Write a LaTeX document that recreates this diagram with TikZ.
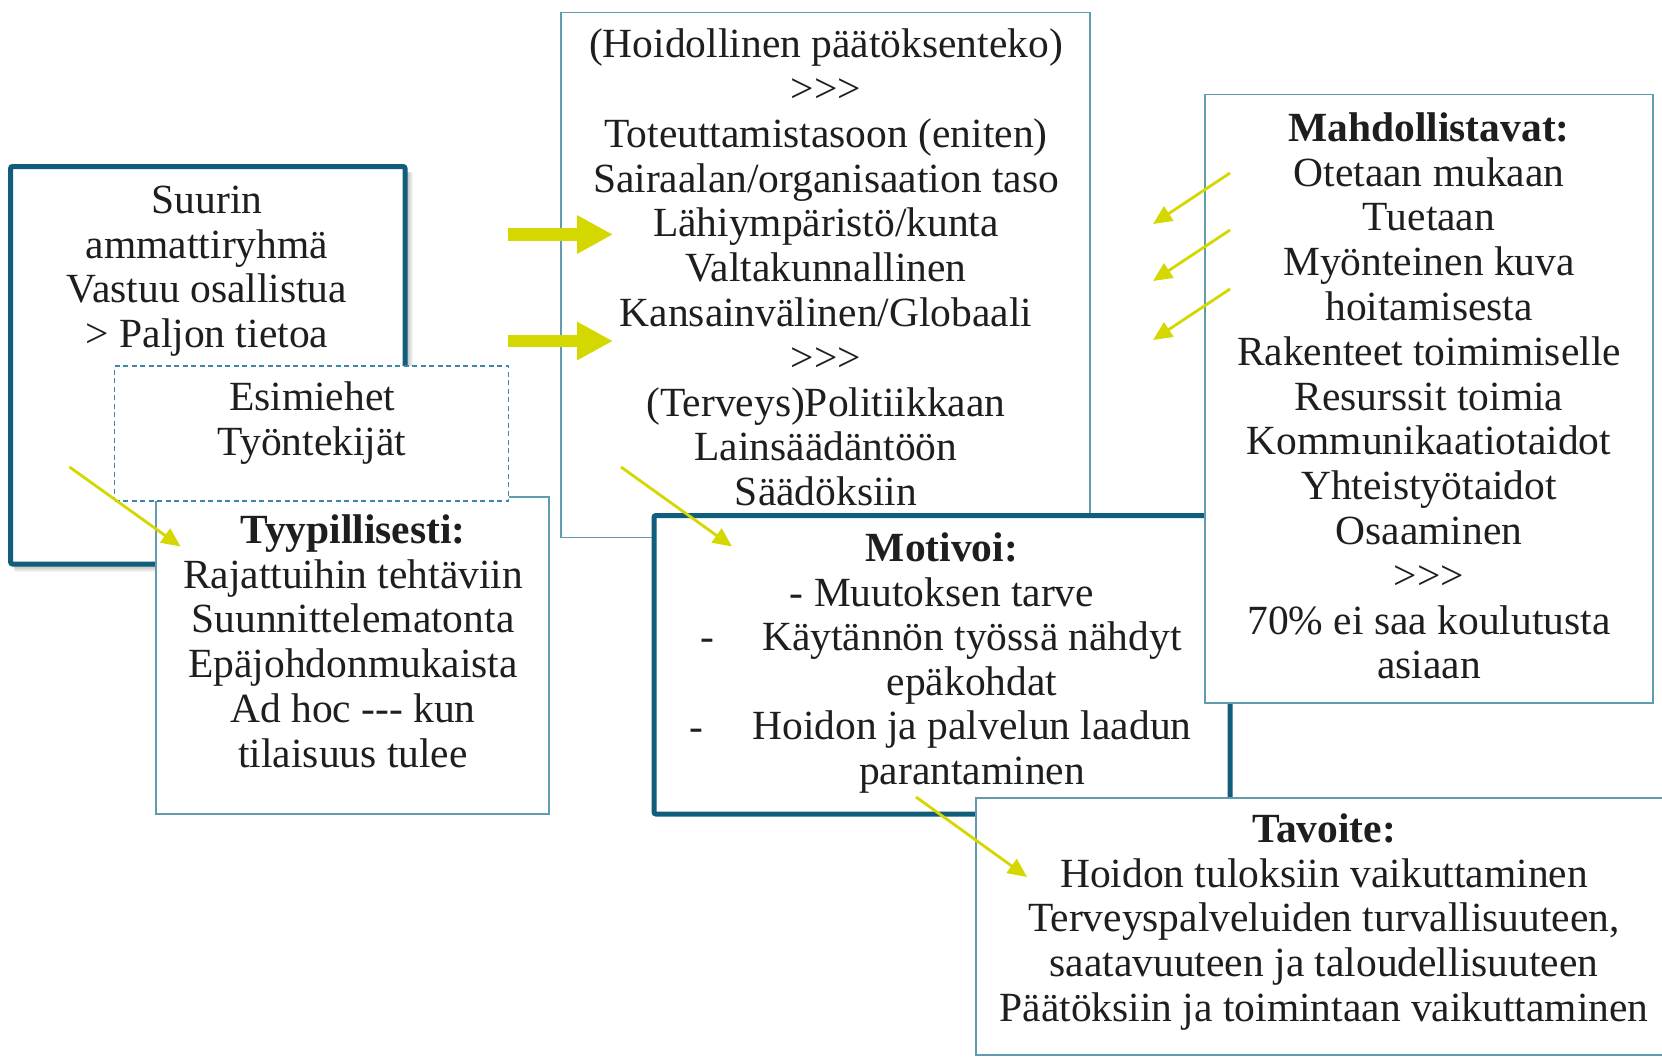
\documentclass[tikz,border=0pt]{standalone}
\usepackage{fontspec}
\setmainfont{Liberation Serif}
\usetikzlibrary{arrows.meta}
\definecolor{tealdark}{RGB}{16,93,124}
\definecolor{tealthin}{RGB}{96,155,176}
\definecolor{tealdash}{RGB}{60,135,165}
\definecolor{ylw}{RGB}{212,215,0}
\definecolor{txt}{RGB}{30,30,30}
\newcommand{\firstln}{\rule{0pt}{34pt}}
\tikzset{
  thickbox/.style={draw=tealdark, line width=5pt, fill=white, rounded corners=2pt, inner sep=0pt},
  thinbox/.style={draw=tealthin, line width=1.6pt, fill=white, inner sep=0pt},
  dashbox/.style={draw=tealdash, line width=1.6pt, dash pattern=on 5pt off 3.5pt, fill=white, inner sep=0pt},
  txtblock/.style={align=center, font=\fontsize{41.5}{44.8}\selectfont, text=txt, inner sep=0pt, anchor=north},
  dashmark/.style={font=\fontsize{41.5}{44.8}\selectfont, text=txt, inner sep=0pt, anchor=base},
  thinarr/.style={draw=ylw, line width=2.8pt, -{Triangle[length=19pt,width=17pt]}},
  fatarr/.style={draw=ylw, line width=12.7pt, -{Triangle[length=36pt,width=36pt]}}
}
\begin{document}
\begin{tikzpicture}[x=1pt,y=-1pt]
\useasboundingbox (0,0) rectangle (1662,1057);
\clip (0,0) rectangle (1662,1057);
% shadow of left box
\foreach \i in {1,...,8}
  \fill[black, opacity=0.045, rounded corners=2pt] (14,172) rectangle ({405+\i},{564+\i});
% boxes
\node[thickbox, minimum width=394.4pt, minimum height=397.5pt] (leftbox) at (207.8,365.25) {};
\node[thinbox, minimum width=529pt, minimum height=525pt] (centerbox) at (825.5,275.15) {};
\node[thinbox, minimum width=393pt, minimum height=317.3pt] (typbox) at (352.5,655.35) {};
\node[dashbox, minimum width=394pt, minimum height=135pt] (dashbox) at (311.5,433.5) {};
\node[thickbox, minimum width=576pt, minimum height=298.5pt] (motbox) at (942,664.75) {};
\node[thinbox, minimum width=448pt, minimum height=608.6pt] (mahdbox) at (1429,398.7) {};
\node[thinbox, minimum width=724pt, minimum height=257pt] (tavbox) at (1338,926.5) {};
% texts
\node[txtblock] (leftT) at (207,179) {\firstln Suurin\\ammattiryhmä\\Vastuu osallistua\\> Paljon tietoa};
\node[txtblock] (dashT) at (312,376) {\firstln Esimiehet\\Työntekijät};
\node[txtblock] (typT) at (353,509) {\firstln\textbf{Tyypillisesti:}\\Rajattuihin tehtäviin\\Suunnittelematonta\\Epäjohdonmukaista\\Ad hoc -{}-{}- kun\\tilaisuus tulee};
\node[txtblock] (centerT) at (826,23.5) {\firstln (Hoidollinen päätöksenteko)\\>{}>{}>\\Toteuttamistasoon (eniten)\\Sairaalan/organisaation taso\\Lähiympäristö/kunta\\Valtakunnallinen\\Kansainvälinen/Globaali\\>{}>{}>\\(Terveys)Politiikkaan\\Lainsäädäntöön\\Säädöksiin};
\node[txtblock] (mahdT) at (1429,107) {\firstln\textbf{Mahdollistavat:}\\Otetaan mukaan\\Tuetaan\\Myönteinen kuva\\hoitamisesta\\Rakenteet toimimiselle\\Resurssit toimia\\Kommunikaatiotaidot\\Yhteistyötaidot\\Osaaminen\\>{}>{}>\\70\% ei saa koulutusta\\asiaan};
\node[txtblock] (motT) at (942,527) {\firstln\textbf{Motivoi:}\\- Muutoksen tarve};
\node[txtblock] (motT2) at (972,616) {\firstln Käytännön työssä nähdyt\\epäkohdat\\Hoidon ja palvelun laadun\\parantaminen};
\node[dashmark] (motD1) at (707,650) {-};
\node[dashmark] (motD2) at (696,740) {-};
\node[txtblock] (tavT) at (1324,808) {\firstln\textbf{Tavoite:}\\Hoidon tuloksiin vaikuttaminen\\Terveyspalveluiden turvallisuuteen,\\saatavuuteen ja taloudellisuuteen\\Päätöksiin ja toimintaan vaikuttaminen};
% arrow end points
\coordinate (f1s) at (508,234.5); \coordinate (f1e) at (613,234.5);
\coordinate (f2s) at (508,341);   \coordinate (f2e) at (613,341);
\coordinate (lAs) at (69.5,467);  \coordinate (lAe) at (180.5,546.5);
\coordinate (cAs) at (621,467);   \coordinate (cAe) at (732,546.5);
\coordinate (mAs) at (916,797);   \coordinate (mAe) at (1027,877);
\coordinate (r1s) at (1230,173);  \coordinate (r1e) at (1153,224);
\coordinate (r2s) at (1230,230);  \coordinate (r2e) at (1153,281);
\coordinate (r3s) at (1230,289);  \coordinate (r3e) at (1153,340);
% arrows
\draw[fatarr] (f1s) -- (f1e);
\draw[fatarr] (f2s) -- (f2e);
\draw[thinarr] (lAs) -- (lAe);
\draw[thinarr] (cAs) -- (cAe);
\draw[thinarr] (mAs) -- (mAe);
\draw[thinarr] (r1s) -- (r1e);
\draw[thinarr] (r2s) -- (r2e);
\draw[thinarr] (r3s) -- (r3e);
\end{tikzpicture}
\end{document}
